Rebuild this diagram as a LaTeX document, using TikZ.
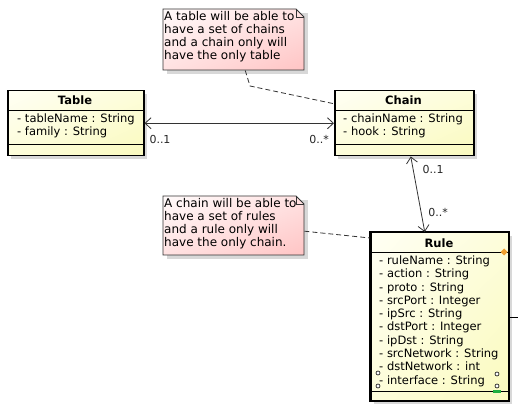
\documentclass[tikz,border=0pt]{standalone}
\usepackage{fontspec}
\setmainfont{DejaVu Sans}
\usetikzlibrary{arrows.meta,calc,shadings}
\definecolor{clsL}{HTML}{FFFFF4}
\definecolor{clsM}{HTML}{FDFDDA}
\definecolor{clsR}{HTML}{FAFABE}
\definecolor{noteL}{HTML}{FFFAFA}
\definecolor{noteM}{HTML}{FFE2E2}
\definecolor{noteR}{HTML}{FFC4C4}
\definecolor{shad}{HTML}{D8D8D8}
\definecolor{orng}{HTML}{F0A030}
\definecolor{grn}{HTML}{20B040}
\begin{document}
\begin{tikzpicture}[x=1pt,y=-1pt,
  classbox/.style={draw=black,line width=1.5pt,upper left=clsL,upper right=clsM,lower left=clsM,lower right=clsR,inner sep=0pt,anchor=north west},
  notebox/.style={draw=none,inner sep=0pt,anchor=north west},
  noteshade/.style={upper left=noteL,upper right=noteM,lower left=noteM,lower right=noteR,draw=black!80,line width=0.8pt},
  title/.style={font=\fontsize{11.5}{13}\selectfont\bfseries,inner sep=0pt},
  attrs/.style={font=\fontsize{11.5}{13.3}\selectfont,align=left,inner sep=0pt,anchor=north west},
  notetext/.style={font=\fontsize{12}{13}\selectfont,align=left,inner sep=0pt,anchor=north west},
  divider/.style={line width=0.8pt},
  assoc/.style={line width=0.8pt,draw=black!80,{Straight Barb[length=6pt,width=11pt]}-{Straight Barb[length=6pt,width=11pt]}},
  notelink/.style={line width=0.8pt,dashed,dash pattern=on 5pt off 3pt,draw=black!80},
  shadow/.style={fill=shad,draw=none},
  mult/.style={font=\fontsize{11}{12}\selectfont,inner sep=0pt,text=black!85},
]
\useasboundingbox[fill=white] (0,0) rectangle (524,411);

% shadows
\fill[shadow] (11,94) rectangle (147,159);
\fill[shadow] (338,94) rectangle (477,159);
\fill[shadow] (374,236) rectangle (512,404);
\fill[shadow] (167,13) rectangle (308,74);
\fill[shadow] (167,200) rectangle (308,259);

% Table class
\node[classbox,minimum width=136pt,minimum height=65pt] (table) at (7,90) {};
\node[title] (tableT) at (75,100.5) {Table};
\draw[divider] (7,110) -- (143,110);
\node[attrs] (tableA) at (17,113.5) {- tableName : String\\- family : String};
\draw[divider] (7,144) -- (143,144);

% Chain class
\node[classbox,minimum width=139pt,minimum height=65pt] (chain) at (334,90) {};
\node[title] (chainT) at (403.5,100.5) {Chain};
\draw[divider] (334,110) -- (473,110);
\node[attrs] (chainA) at (343,113.5) {- chainName : String\\- hook : String};
\draw[divider] (334,144) -- (473,144);

% Rule class
\node[classbox,minimum width=138pt,minimum height=168pt] (rule) at (370,232) {};
\node[title] (ruleT) at (439,243) {Rule};
\draw[divider] (370,252) -- (508,252);
\node[attrs] (ruleA) at (379,255.5) {- ruleName : String\\- action : String\\- proto : String\\- srcPort : Integer\\- ipSrc : String\\- dstPort : Integer\\- ipDst : String\\- srcNetwork : String\\- dstNetwork : int\\- interface : String};
\draw[divider] (370,391) -- (508,391);
\draw[line width=1.5pt] (rule.north west) rectangle (rule.south east);
% selection artefacts
\fill[orng] (504,248.5) -- (507.5,252) -- (504,255.5) -- (500.5,252) -- cycle;
\draw[line width=0.8pt] (508,317) -- (518,317);
\foreach \p in {(378,373),(378,386),(497,374),(497,386)} \draw[line width=0.6pt,fill=white] \p circle (2pt);
\fill[grn] (493,389.5) rectangle (501,392.5);

% Note 1
\node[notebox,minimum width=141pt,minimum height=61pt] (n1) at (163,9) {};
\shade[noteshade] (163,9) -- (296,9) -- (304,17) -- (304,70) -- (163,70) -- cycle;
\draw[draw=black!80,line width=0.8pt] (296,9) -- (296,17) -- (304,17);
\node[notetext] (n1t) at (164,11.5) {A table will be able to\\have a set of chains\\and a chain only will\\have the only table};

% Note 2
\node[notebox,minimum width=141pt,minimum height=59pt] (n2) at (163,196) {};
\shade[noteshade] (163,196) -- (296,196) -- (304,204) -- (304,255) -- (163,255) -- cycle;
\draw[draw=black!80,line width=0.8pt] (296,196) -- (296,204) -- (304,204);
\node[notetext] (n2t) at (164,198.5) {A chain will be able to\\have a set of rules\\and a rule only will\\have the only chain.};

% connectors
\coordinate (bend1) at (250,86);
\draw[notelink] ([xshift=11.5pt]n1.south) -- (bend1) -- ([yshift=19.5pt]chain.west);
\draw[notelink] ([yshift=-5.5pt]n2.east) -- ([yshift=-6pt]rule.north west);
\draw[assoc] (table.east) -- (chain.west);
\draw[assoc] ([xshift=6.5pt]chain.south) -- ([xshift=-15pt]rule.north);

% multiplicities
\node[mult] (m1) at (160,139) {0..1};
\node[mult] (m2) at (319,139) {0..*};
\node[mult] (m3) at (433,169) {0..1};
\node[mult] (m4) at (438,212) {0..*};
\end{tikzpicture}
\end{document}
